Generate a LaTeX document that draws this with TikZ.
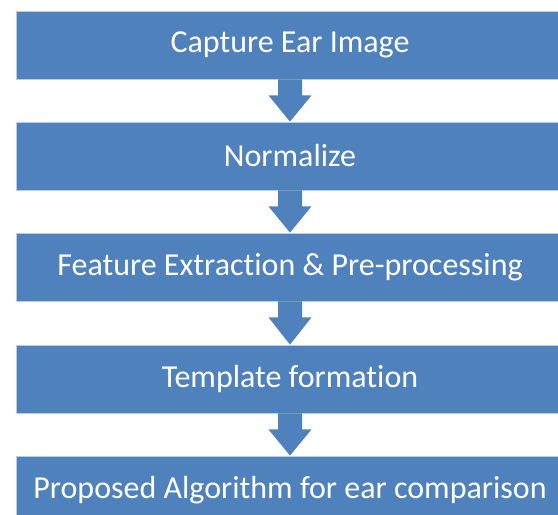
\documentclass[tikz,border=0pt]{standalone}
\usepackage{fontspec}
\setmainfont{Carlito}[Ligatures=NoCommon]
\usetikzlibrary{calc}
\definecolor{boxblue}{HTML}{4F81BD}
\definecolor{edgeblue}{HTML}{B9CDE5}
\tikzset{
  stepbox/.style={fill=boxblue, draw=edgeblue, line width=0.8pt, minimum width=548pt, minimum height=68pt,
    inner sep=0pt, text=white, font=\fontsize{32}{36}\selectfont},
}
\newcommand{\flowarrow}[2]{%
  \fill[boxblue] ($(#1.south)+(-12,0)$) -- ($(#1.south)+(-12,16)$) -- ($(#1.south)+(-21.5,16)$) -- (#2.north)
    -- ($(#1.south)+(21.5,16)$) -- ($(#1.south)+(12,16)$) -- ($(#1.south)+(12,0)$) -- cycle;}
\begin{document}
\begin{tikzpicture}[x=1pt,y=-1pt]
\useasboundingbox (0,0) rectangle (558,515);
\node[stepbox] (a) at (290,45) {Capture Ear Image};
\node[stepbox] (b) at (290,156) {Normalize};
\node[stepbox] (c) at (290,267) {Feature Extraction \& Pre-processing};
\node[stepbox] (d) at (290,379) {Template formation};
\node[stepbox] (e) at (290,490) {Proposed Algorithm for ear comparison};
\flowarrow{a}{b}
\flowarrow{b}{c}
\flowarrow{c}{d}
\flowarrow{d}{e}
\end{tikzpicture}
\end{document}
